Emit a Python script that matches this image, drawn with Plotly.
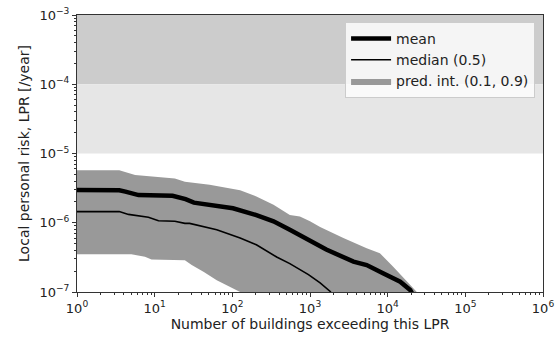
import plotly.graph_objects as go

# ---- data ----
mean_x = [1, 3.5, 4.2, 6.2, 17, 25, 32, 51, 102, 204, 339, 550, 955, 1620, 3630, 5370, 8710, 14500, 19500, 21400]
mean_y = [2.97e-6, 2.95e-6, 2.82e-6, 2.51e-6, 2.45e-6, 2.19e-6, 1.95e-6, 1.82e-6, 1.62e-6, 1.29e-6,
          1.05e-6, 7.9e-7, 5.6e-7, 4.1e-7, 2.75e-7, 2.45e-7, 1.86e-7, 1.41e-7, 1.07e-7, 8.9e-8]

median_x = [1, 3.5, 4.6, 8.3, 11.2, 18.2, 24.5, 28.2, 63, 126, 204, 372, 550, 741, 955, 1350, 1820, 1950]
median_y = [1.45e-6, 1.45e-6, 1.32e-6, 1.20e-6, 1.07e-6, 1.05e-6, 9.8e-7, 9.8e-7, 7.9e-7, 6.0e-7,
            4.8e-7, 3.2e-7, 2.57e-7, 2.09e-7, 1.78e-7, 1.35e-7, 1.02e-7, 8.9e-8]

upper_x = [1, 3.5, 5.6, 18.2, 24.5, 51, 126, 204, 339, 550, 741, 1000, 1350, 2690, 5370, 7940, 11700, 17400, 23400, 25100]
upper_y = [5.75e-6, 5.75e-6, 4.9e-6, 4.37e-6, 3.9e-6, 3.55e-6, 2.95e-6, 2.4e-6, 1.82e-6, 1.29e-6,
           1.23e-6, 1.05e-6, 8.7e-7, 6.0e-7, 4.27e-7, 3.63e-7, 2.34e-7, 1.48e-7, 1.02e-7, 8.9e-8]

lower_x = [1, 5, 7.5, 9.1, 24.5, 30, 43, 63, 102, 126, 138]
lower_y = [3.5e-7, 3.5e-7, 3.24e-7, 2.95e-7, 2.88e-7, 2.45e-7, 1.95e-7, 1.48e-7, 1.12e-7, 1.0e-7, 8.9e-8]

# risk-criterion bands
band_x = [1, 1e6]
band_dark = [1e-4, 1e-3]
band_light = [1e-5, 1e-4]

x_tickvals = [1, 10, 100, 1e3, 1e4, 1e5, 1e6]
x_ticktext = ["10<sup>0</sup>", "10<sup>1</sup>", "10<sup>2</sup>", "10<sup>3</sup>",
              "10<sup>4</sup>", "10<sup>5</sup>", "10<sup>6</sup>"]
y_tickvals = [1e-7, 1e-6, 1e-5, 1e-4, 1e-3]
y_ticktext = ["10<sup>−7</sup>", "10<sup>−6</sup>", "10<sup>−5</sup>", "10<sup>−4</sup>", "10<sup>−3</sup>"]

x_minor = [m * 10 ** k for k in range(0, 6) for m in range(2, 10)]
y_minor = [m * 10.0 ** k for k in range(-7, -3) for m in range(2, 10)]

FONT = "DejaVu Sans"

fig = go.Figure()

# background bands
for (lo, hi), col in [(band_dark, "#cccccc"), (band_light, "#e6e6e6")]:
    fig.add_trace(go.Scatter(x=band_x, y=[lo, lo], mode="lines", line=dict(width=0),
                             showlegend=False, hoverinfo="skip"))
    fig.add_trace(go.Scatter(x=band_x, y=[hi, hi], mode="lines", line=dict(width=0),
                             fill="tonexty", fillcolor=col, showlegend=False, hoverinfo="skip"))

# prediction interval
fig.add_trace(go.Scatter(
    x=upper_x + lower_x[::-1], y=upper_y + lower_y[::-1],
    mode="lines", line=dict(width=0), fill="toself", fillcolor="#999999",
    name="pred. int. (0.1, 0.9)", legendrank=3))
fig.add_trace(go.Scatter(x=mean_x, y=mean_y, mode="lines",
                         line=dict(color="black", width=4.5), name="mean", legendrank=1))
fig.add_trace(go.Scatter(x=median_x, y=median_y, mode="lines",
                         line=dict(color="black", width=1.6), name="median (0.5)", legendrank=2))

axis_common = dict(
    showgrid=False, zeroline=False, showline=True, mirror=True, automargin=False,
    linecolor="#333333", linewidth=1, ticks="outside", ticklen=4, tickwidth=1,
    tickcolor="#333333", tickfont=dict(family=FONT, size=13, color="#222"),
)

fig.update_xaxes(type="log", range=[0, 6], tickvals=x_tickvals, ticktext=x_ticktext,
                 minor=dict(tickvals=x_minor, ticks="outside", ticklen=2, tickcolor="#333333"),
                 title=dict(text="Number of buildings exceeding this LPR",
                            font=dict(family=FONT, size=14, color="#222"), standoff=4),
                 **axis_common)
fig.update_yaxes(type="log", range=[-7, -3], tickvals=y_tickvals, ticktext=y_ticktext,
                 minor=dict(tickvals=y_minor, ticks="outside", ticklen=2, tickcolor="#333333"),
                 title=dict(text="Local personal risk, LPR [/year]",
                            font=dict(family=FONT, size=14, color="#222"), standoff=6),
                 **axis_common)

fig.update_layout(
    width=557, height=341,
    margin=dict(l=77, r=14, t=15, b=49, autoexpand=False),
    paper_bgcolor="white", plot_bgcolor="white",
    font=dict(family=FONT, size=13, color="#222"),
    legend=dict(x=0.983, y=0.975, xanchor="right", yanchor="top", traceorder="normal",
                bgcolor="rgba(255,255,255,0.8)", bordercolor="#cccccc", borderwidth=1,
                font=dict(family=FONT, size=14, color="#222"),
                tracegroupgap=2, itemwidth=40),
)

fig.write_html("out.html", config={"displayModeBar": False},
               post_script="document.body.style.margin='0';")
